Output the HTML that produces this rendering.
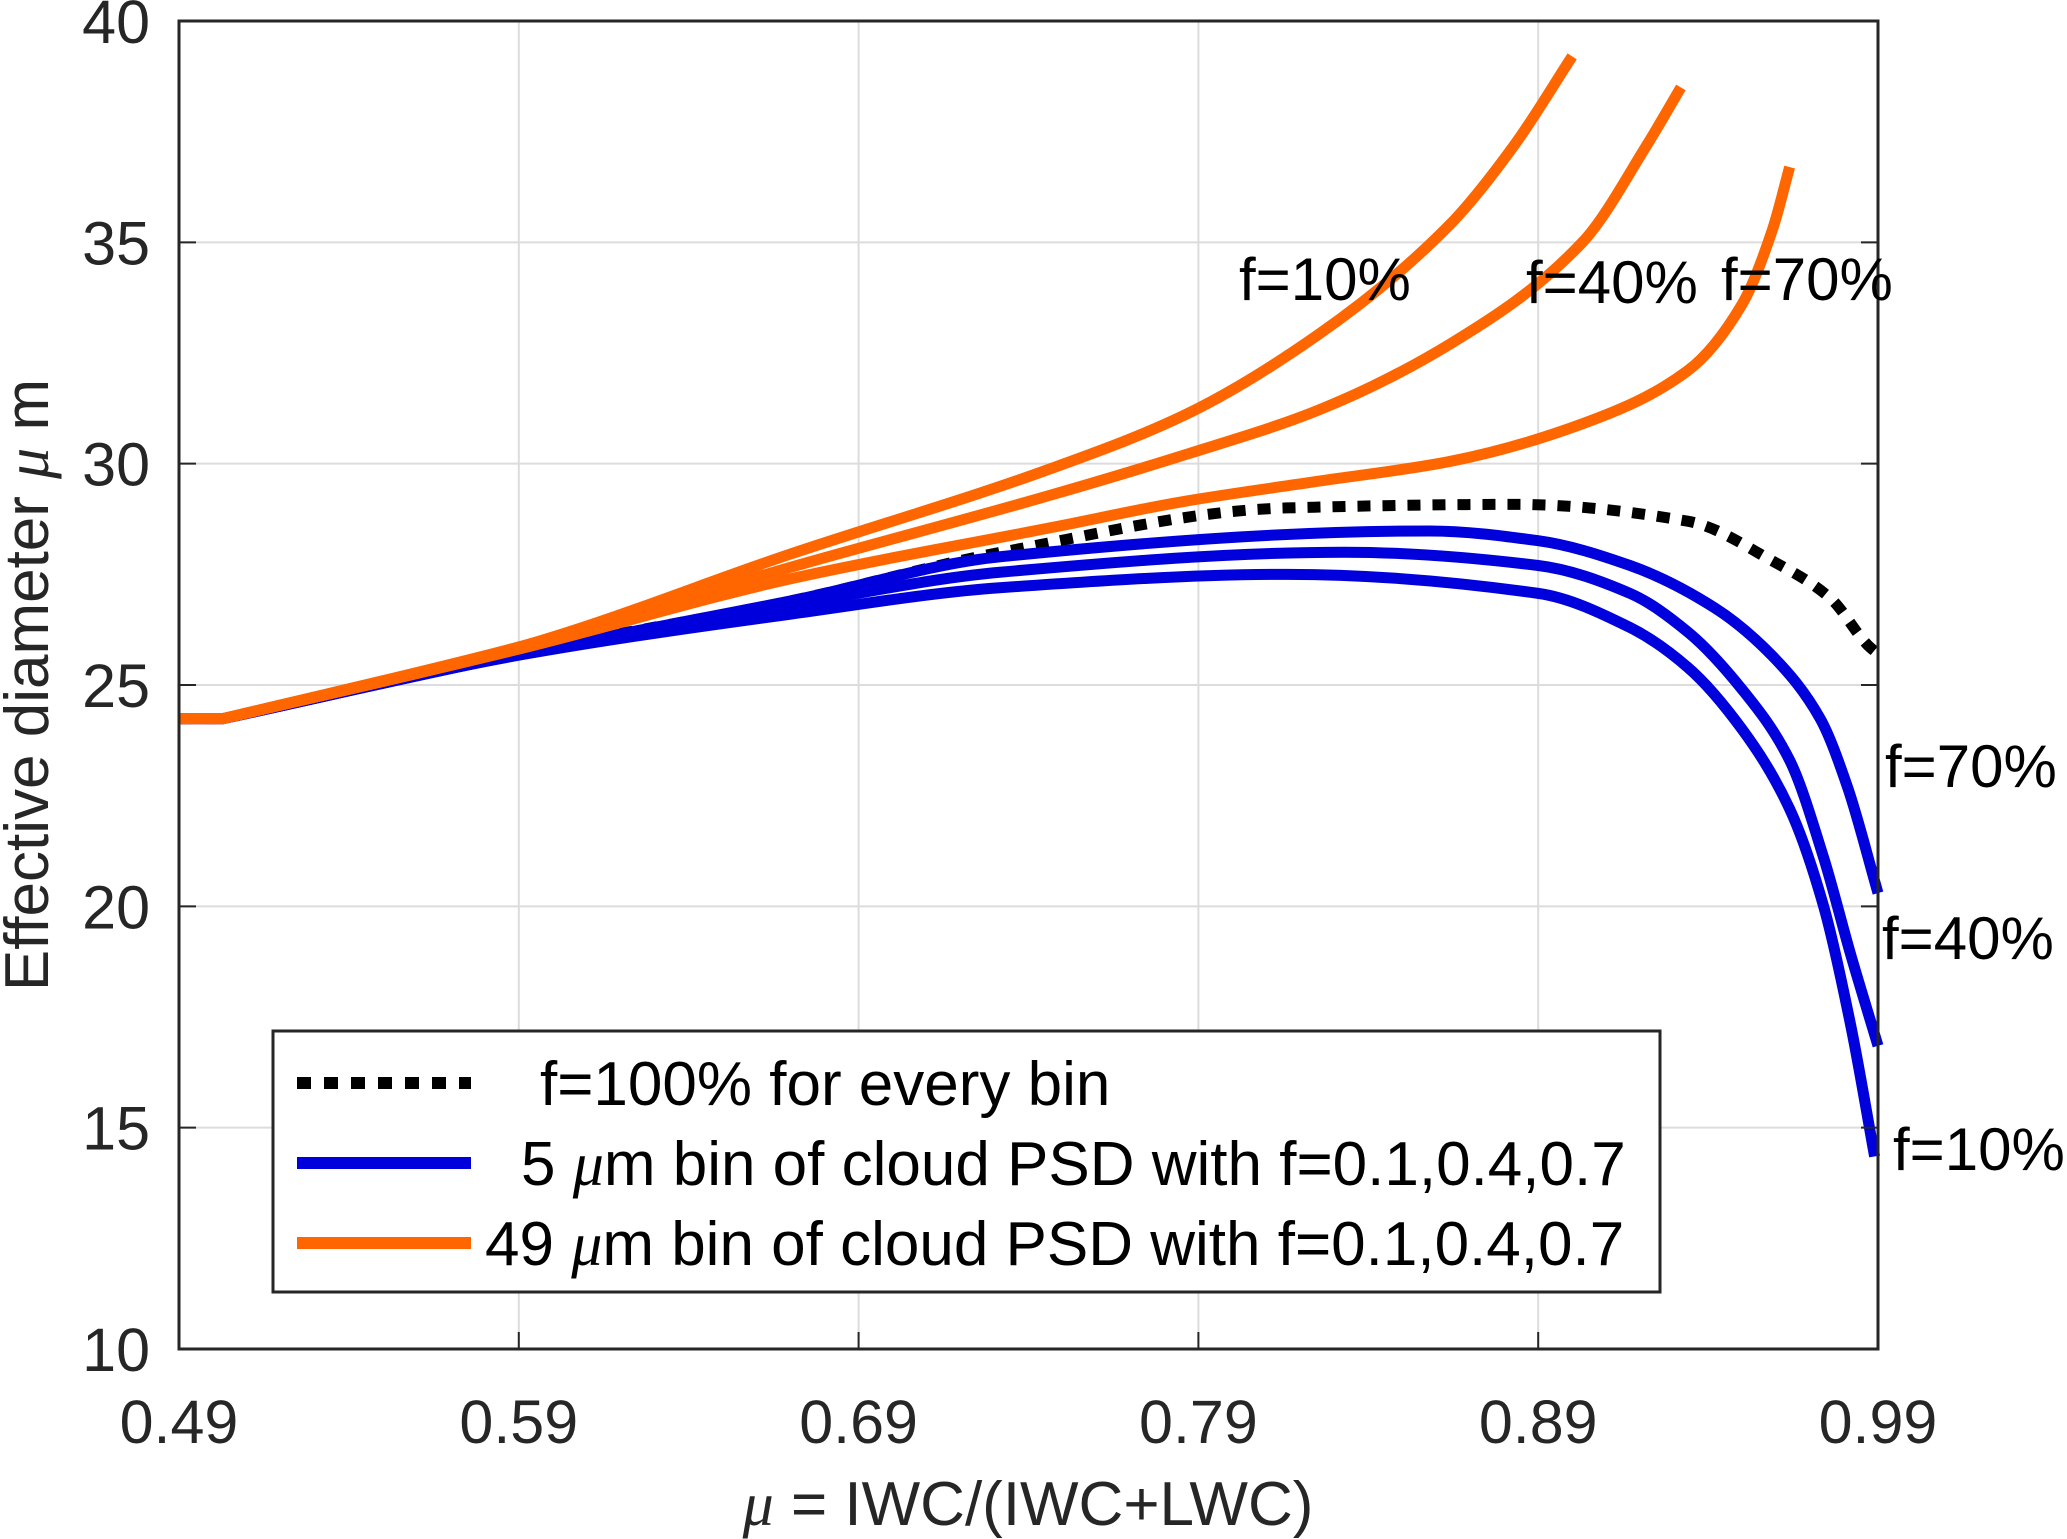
<!DOCTYPE html>
<html><head><meta charset="utf-8"><style>
html,body{margin:0;padding:0;background:#fff}
svg{display:block;font-family:"Liberation Sans",sans-serif}
</style></head><body>
<svg id="chart" width="2067" height="1539" viewBox="0 0 2067 1539" xmlns="http://www.w3.org/2000/svg">
<g id="grid"></g>
<g id="series"></g>
<rect x="179" y="21" width="1699" height="1328" fill="none" stroke="#262626" stroke-width="3"/>
<g id="ticks" font-size="61" fill="#262626"></g>
<text x="1028" y="1525" font-size="62" text-anchor="middle" fill="#262626"><tspan font-style="italic" font-family="Liberation Serif">μ</tspan> = IWC/(IWC+LWC)</text>
<text transform="translate(48,685) rotate(-90)" font-size="62" text-anchor="middle" fill="#262626">Effective diameter <tspan font-style="italic" font-family="Liberation Serif">μ</tspan> m</text>
<g font-size="60" fill="#000">
<text x="1239" y="300">f=10%</text>
<text x="1526" y="303">f=40%</text>
<text x="1721" y="300">f=70%</text>
<text x="1885" y="787">f=70%</text>
<text x="1882" y="959">f=40%</text>
<text x="1893" y="1170">f=10%</text>
</g>
<g>
<rect x="273" y="1031" width="1387" height="261" fill="#fff" stroke="#262626" stroke-width="3"/>
<line x1="297" y1="1083" x2="471" y2="1083" stroke="#000" stroke-width="12" stroke-dasharray="14,13"/>
<line x1="297" y1="1163" x2="471" y2="1163" stroke="#0000dd" stroke-width="12"/>
<line x1="297" y1="1243" x2="471" y2="1243" stroke="#ff6600" stroke-width="12"/>
<g font-size="62" fill="#000">
<text x="540" y="1105">f=100% for every bin</text>
<text x="521" y="1185">5 <tspan font-style="italic" font-family="Liberation Serif">μ</tspan>m bin of cloud PSD with f=0.1,0.4,0.7</text>
<text x="485" y="1265">49 <tspan font-style="italic" font-family="Liberation Serif">μ</tspan>m bin of cloud PSD with f=0.1,0.4,0.7</text>
</g></g>
</svg>
<script>
const xTicks=[0.49,0.59,0.69,0.79,0.89,0.99];
const yTicks=[10,15,20,25,30,35,40];
const muBlack=[0.49,0.503,0.592,0.67,0.732,0.816,0.883,0.934,0.959,0.976,0.987,0.99];
const dBlack=[24.24,24.24,25.75,26.9,28.0,29.0,29.08,28.7,27.8,26.96,25.9,25.7];
const muBlue70=[0.49,0.503,0.592,0.67,0.732,0.858,0.89,0.917,0.942,0.959,0.973,0.981,0.99];
const dBlue70=[24.24,24.24,25.73,26.9,27.9,28.48,28.26,27.7,26.74,25.65,24.24,22.7,20.3];
const muBlue40=[0.49,0.503,0.592,0.67,0.732,0.833,0.89,0.917,0.934,0.95,0.964,0.974,0.982,0.99];
const dBlue40=[24.24,24.24,25.72,26.8,27.55,28.0,27.7,27.07,26.2,24.9,23.3,21.1,18.9,16.85];
const muBlue10=[0.49,0.503,0.592,0.67,0.732,0.816,0.89,0.917,0.934,0.95,0.964,0.974,0.982,0.989];
const dBlue10=[24.24,24.24,25.7,26.6,27.2,27.5,27.07,26.3,25.4,24.0,22.2,20.0,17.3,14.35];
const muOr10=[0.49,0.503,0.592,0.67,0.747,0.786,0.825,0.864,0.883,0.9];
const dOr10=[24.24,24.24,25.9,27.96,29.9,31.1,32.9,35.4,37.2,39.2];
const muOr40=[0.49,0.503,0.592,0.67,0.747,0.786,0.825,0.864,0.903,0.922,0.932];
const dOr40=[24.24,24.24,25.9,27.66,29.3,30.2,31.2,32.7,35.0,37.2,38.5];
const muOr70=[0.49,0.503,0.592,0.67,0.747,0.786,0.825,0.864,0.903,0.934,0.95,0.959,0.964];
const dOr70=[24.24,24.24,25.85,27.4,28.56,29.15,29.6,30.05,30.9,32.1,33.6,35.3,36.7];
const L=179,R=1878,T=21,B=1349;
const sx=v=>L+(v-0.49)/0.5*(R-L);
const sy=v=>B-(v-10)/30*(B-T);
const NS="http://www.w3.org/2000/svg";
const grid=document.getElementById('grid'),ticks=document.getElementById('ticks'),series=document.getElementById('series');
function mk(t,a,p){const e=document.createElementNS(NS,t);for(const k in a)e.setAttribute(k,a[k]);p.appendChild(e);return e;}
xTicks.forEach(v=>{const x=sx(v);
 const g=mk('line',{x1:x,y1:T,x2:x,y2:B,stroke:'#dcdcdc','stroke-width':2},grid);
 
 
 const t1=mk('line',{x1:x,y1:B,x2:x,y2:B-17,stroke:'#262626','stroke-width':2},ticks);
 
 
 const tx=mk('text',{x:x,y:1443,'text-anchor':'middle'},ticks);tx.textContent=v.toFixed(2);
 
 
});
yTicks.forEach(v=>{const y=sy(v);
 const g=mk('line',{x1:L,y1:y,x2:R,y2:y,stroke:'#dcdcdc','stroke-width':2},grid);
 
 
 const t1=mk('line',{x1:L,y1:y,x2:L+17,y2:y,stroke:'#262626','stroke-width':2},ticks);
 
 
 const t2=mk('line',{x1:R,y1:y,x2:R-17,y2:y,stroke:'#262626','stroke-width':2},ticks);
 
 
 const tx=mk('text',{x:150,y:y+22,'text-anchor':'end'},ticks);tx.textContent=v;
 
 
});
// straight flat lead-in, then monotone cubic (Fritsch-Carlson), x-parameterized
function pathD(xs,ys){let X=xs.map(sx),Y=ys.map(sy);
 let d='M'+X[0]+','+Y[0];
 if(Y.length>2&&Math.abs(Y[1]-Y[0])<0.01){d+=' L'+X[1]+','+Y[1];X=X.slice(1);Y=Y.slice(1);}
 const n=X.length,dx=[],m=[];
 for(let i=0;i<n-1;i++){dx[i]=X[i+1]-X[i];m[i]=(Y[i+1]-Y[i])/dx[i];}
 const t=[m[0]];
 for(let i=1;i<n-1;i++){
  if(m[i-1]*m[i]<=0){t[i]=0;continue;}
  const w1=2*dx[i]+dx[i-1],w2=dx[i]+2*dx[i-1];
  t[i]=(w1+w2)/(w1/m[i-1]+w2/m[i]);
 }
 t[n-1]=m[n-2];
 for(let i=0;i<n-1;i++){const h=dx[i]/3;d+=' C'+(X[i]+h)+','+(Y[i]+t[i]*h)+' '+(X[i+1]-h)+','+(Y[i+1]-t[i+1]*h)+' '+X[i+1]+','+Y[i+1];}
 return d;}
function draw(xs,ys,color,name,dash){const e=mk('path',{d:pathD(xs,ys),fill:'none',stroke:color,'stroke-width':11,'stroke-linejoin':'round'},series);
 if(dash)e.setAttribute('stroke-dasharray',dash);
 
 }
draw(muBlack,dBlack,'#000','line-f100-black','13,12');
draw(muBlue70,dBlue70,'#0000dd','line-blue-f70');
draw(muBlue40,dBlue40,'#0000dd','line-blue-f40');
draw(muBlue10,dBlue10,'#0000dd','line-blue-f10');
draw(muOr70,dOr70,'#ff6600','line-orange-f70');
draw(muOr40,dOr40,'#ff6600','line-orange-f40');
draw(muOr10,dOr10,'#ff6600','line-orange-f10');
</script>
</body></html>
